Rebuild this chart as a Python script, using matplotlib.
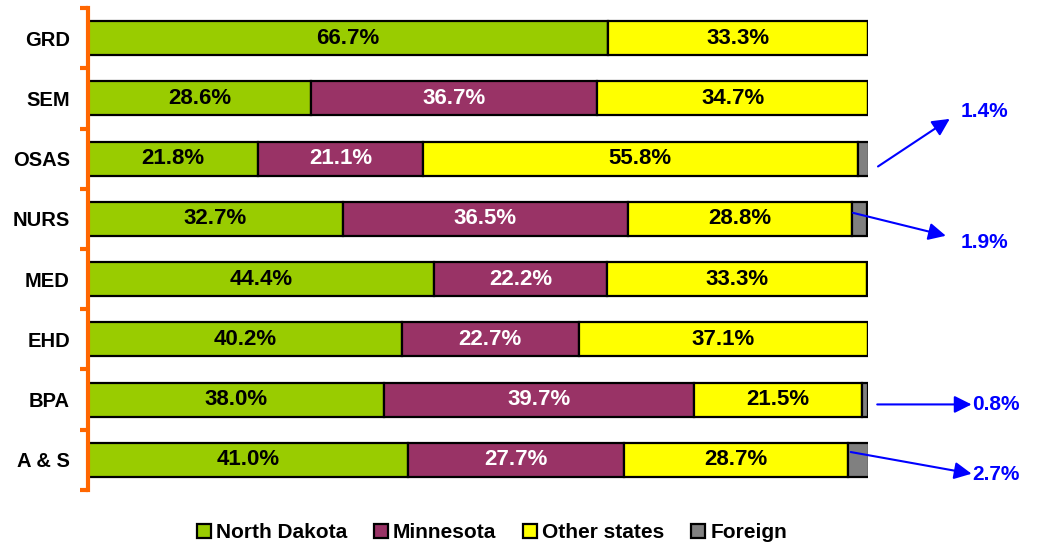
import numpy as np
import matplotlib.pyplot as plt

plt.rcParams.update({
    "font.family": ["Liberation Sans", "DejaVu Sans"],
    "font.weight": "bold",
})

colleges = ["GRD", "SEM", "OSAS", "NURS", "MED", "EHD", "BPA", "A & S"]
north_dakota = [66.7, 28.6, 21.8, 32.7, 44.4, 40.2, 38.0, 41.0]
minnesota = [0.0, 36.7, 21.1, 36.5, 22.2, 22.7, 39.7, 27.7]
other_states = [33.3, 34.7, 55.8, 28.8, 33.3, 37.1, 21.5, 28.7]
foreign = [0.0, 0.0, 1.4, 1.9, 0.0, 0.0, 0.8, 2.7]

series = [
    ("North Dakota", north_dakota, "#99CC00", "black"),
    ("Minnesota", minnesota, "#993366", "white"),
    ("Other states", other_states, "#FFFF00", "black"),
    ("Foreign", foreign, "#808080", None),
]

fig = plt.figure(figsize=(10.37, 5.46), dpi=100)
ax = fig.add_axes([0.0849, 0.1026, 0.752, 0.8827])

y = np.arange(len(colleges))
left = np.zeros(len(colleges))
for name, vals, color, txt in series:
    vals = np.array(vals)
    ax.barh(y, vals, left=left, height=0.565, color=color, edgecolor="black",
            linewidth=1.6, label=name)
    if txt is not None:
        for yi, (l, v) in enumerate(zip(left, vals)):
            if v > 0:
                ax.text(l + v / 2, yi, f"{v:.1f}%", ha="center", va="center",
                        color=txt, fontsize=16, fontweight="bold")
    left = left + vals

# callouts for the small foreign slices
callouts = [
    # (tail, head, text pos, text, ha)
    ((101.3, 2.13), (110.5, 1.34), (115.0, 1.22), "1.4%", "center"),
    ((98.1, 2.90), (110.0, 3.28), (115.0, 3.40), "1.9%", "center"),
    ((101.2, 6.08), (113.3, 6.08), (113.4, 6.08), "0.8%", "left"),
    ((97.8, 6.87), (113.3, 7.23), (113.4, 7.25), "2.7%", "left"),
]
for tail, head, tpos, label, ha in callouts:
    ax.annotate("", xy=head, xytext=tail, annotation_clip=False,
                arrowprops=dict(arrowstyle="-|>", color="#0000FF", lw=1.5,
                                mutation_scale=26, shrinkA=0, shrinkB=0))
    ax.text(tpos[0], tpos[1], label, ha=ha, va="center", color="#0000FF",
            fontsize=15, fontweight="bold", clip_on=False)

ax.set_xlim(0, 100)
ax.set_ylim(len(colleges) - 0.5, -0.5)

ax.set_yticks(y)
ax.set_yticklabels(colleges, fontsize=14.5, fontweight="bold")
ax.tick_params(axis="y", which="major", length=0, pad=13)
ax.set_yticks(np.arange(len(colleges) + 1) - 0.5, minor=True)
ax.tick_params(axis="y", which="minor", length=6, width=3, color="#FF6600")

ax.set_xticks([])
for side in ["top", "right", "bottom"]:
    ax.spines[side].set_visible(False)
ax.spines["left"].set_color("#FF6600")
ax.spines["left"].set_linewidth(3)

ax.legend(loc="upper center", bbox_to_anchor=(0.518, -0.03), ncol=4,
          frameon=False, prop={"size": 15, "weight": "bold"},
          handlelength=0.65, handleheight=0.65, handletextpad=0.25,
          columnspacing=1.3)

fig.savefig("out.png", dpi=100)
